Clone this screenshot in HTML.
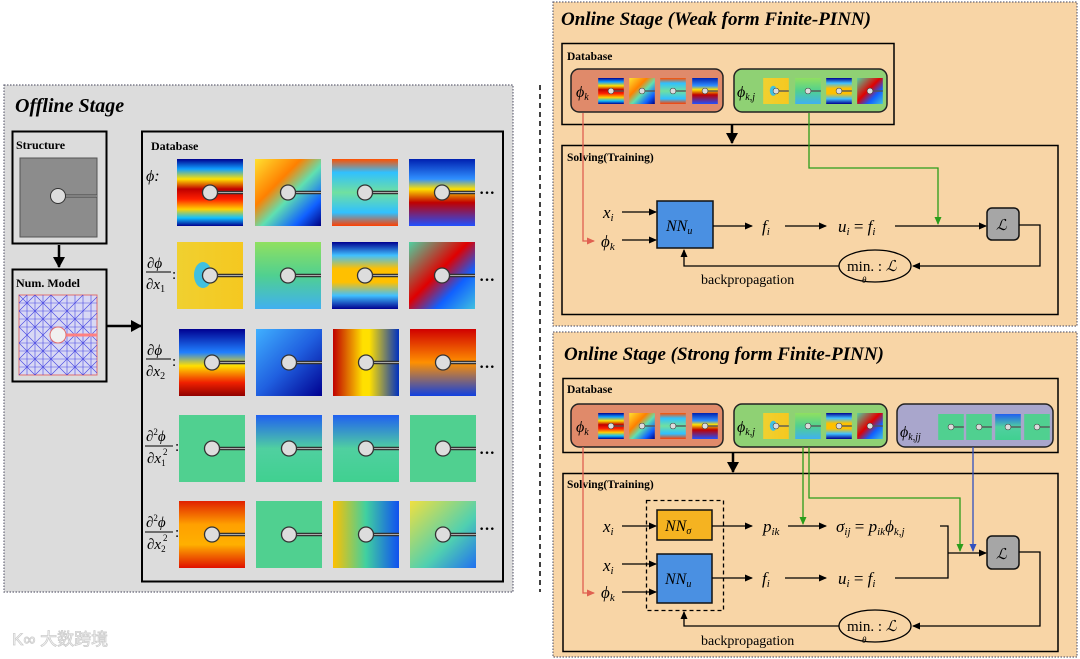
<!DOCTYPE html>
<html><head><meta charset="utf-8"><style>
html,body{margin:0;padding:0;background:#fff;width:1080px;height:659px;overflow:hidden}
svg{display:block}
.t{font-family:"Liberation Serif",serif}
.b{font-weight:bold}
.m{font-family:"Liberation Serif",serif;font-style:italic}
</style></head><body>
<svg width="1080" height="659" viewBox="0 0 1080 659" xmlns="http://www.w3.org/2000/svg">
<defs>
<marker id="ah" markerWidth="8" markerHeight="8" refX="7" refY="4" orient="auto" markerUnits="userSpaceOnUse"><path d="M0,0.5 L8,4 L0,7.5z" fill="#000"/></marker>
<marker id="ahb" markerWidth="12" markerHeight="12" refX="10" refY="6" orient="auto" markerUnits="userSpaceOnUse"><path d="M0,0 L11,6 L0,12z" fill="#000"/></marker>
<marker id="ahg" markerWidth="8" markerHeight="8" refX="7" refY="4" orient="auto" markerUnits="userSpaceOnUse"><path d="M0,0.5 L8,4 L0,7.5z" fill="#2a9d1a"/></marker>
<marker id="ahr" markerWidth="8" markerHeight="8" refX="7" refY="4" orient="auto" markerUnits="userSpaceOnUse"><path d="M0,0.5 L8,4 L0,7.5z" fill="#e06050"/></marker>
<marker id="ahl" markerWidth="8" markerHeight="8" refX="7" refY="4" orient="auto" markerUnits="userSpaceOnUse"><path d="M0,0.5 L8,4 L0,7.5z" fill="#3050c0"/></marker>
<linearGradient id="gA" x1="0" y1="0" x2="0" y2="1"><stop offset="0" stop-color="#00008f"/><stop offset=".15" stop-color="#10a0ff"/><stop offset=".3" stop-color="#ffe000"/><stop offset=".45" stop-color="#c00000"/><stop offset=".6" stop-color="#ff2000"/><stop offset=".75" stop-color="#ffd000"/><stop offset=".88" stop-color="#10c0ff"/><stop offset="1" stop-color="#000090"/></linearGradient>
<linearGradient id="gB" x1="0" y1="0" x2="1" y2="1"><stop offset="0" stop-color="#ffe030"/><stop offset=".35" stop-color="#ff8000"/><stop offset=".55" stop-color="#60e0b0"/><stop offset=".8" stop-color="#1060ff"/><stop offset="1" stop-color="#000080"/></linearGradient>
<linearGradient id="gC" x1="0" y1="0" x2="0" y2="1"><stop offset="0" stop-color="#ff5000"/><stop offset=".2" stop-color="#30c0ff"/><stop offset=".5" stop-color="#70e0a0"/><stop offset=".8" stop-color="#30c0ff"/><stop offset="1" stop-color="#ff4000"/></linearGradient>
<linearGradient id="gD" x1="0" y1="0" x2="0" y2="1"><stop offset="0" stop-color="#0020b0"/><stop offset=".3" stop-color="#3090ff"/><stop offset=".45" stop-color="#ffe000"/><stop offset=".65" stop-color="#c00000"/><stop offset="1" stop-color="#2050ff"/></linearGradient>
<linearGradient id="gY" x1="0" y1="0" x2="1" y2="0"><stop offset="0" stop-color="#f0d030"/><stop offset="1" stop-color="#f5c820"/></linearGradient>
<linearGradient id="gG" x1="0" y1="0" x2="0" y2="1"><stop offset="0" stop-color="#90e060"/><stop offset=".5" stop-color="#50d090"/><stop offset="1" stop-color="#40b0f0"/></linearGradient>
<linearGradient id="gE" x1="0" y1="0" x2="0" y2="1"><stop offset="0" stop-color="#000090"/><stop offset=".2" stop-color="#40c0ff"/><stop offset=".4" stop-color="#ffc000"/><stop offset=".6" stop-color="#ffc000"/><stop offset=".8" stop-color="#40c0ff"/><stop offset="1" stop-color="#000090"/></linearGradient>
<linearGradient id="gF" x1="0" y1="0" x2="1" y2="1"><stop offset="0" stop-color="#50d0a0"/><stop offset=".45" stop-color="#e00000"/><stop offset=".7" stop-color="#1060ff"/><stop offset="1" stop-color="#40c0e0"/></linearGradient>
<linearGradient id="gH" x1="0" y1="0" x2="0" y2="1"><stop offset="0" stop-color="#000090"/><stop offset=".35" stop-color="#2080ff"/><stop offset=".55" stop-color="#ffe000"/><stop offset=".8" stop-color="#f02000"/><stop offset="1" stop-color="#900000"/></linearGradient>
<linearGradient id="gI" x1="0" y1="0" x2="1" y2="1"><stop offset="0" stop-color="#40b0ff"/><stop offset=".5" stop-color="#2060e0"/><stop offset="1" stop-color="#000090"/></linearGradient>
<linearGradient id="gJ" x1="0" y1="0" x2="1" y2="0"><stop offset="0" stop-color="#c00000"/><stop offset=".45" stop-color="#ffe000"/><stop offset=".55" stop-color="#ffe000"/><stop offset="1" stop-color="#0030c0"/></linearGradient>
<linearGradient id="gK" x1="0" y1="0" x2="0" y2="1"><stop offset="0" stop-color="#e02000"/><stop offset=".35" stop-color="#ffa000"/><stop offset=".65" stop-color="#ffb000"/><stop offset="1" stop-color="#e01000"/></linearGradient>
<linearGradient id="gL" x1="0" y1="0" x2="1" y2="0"><stop offset="0" stop-color="#ffc000"/><stop offset=".5" stop-color="#40d0a0"/><stop offset="1" stop-color="#1050f0"/></linearGradient>
<linearGradient id="gM" x1="0" y1="0" x2="1" y2="1"><stop offset="0" stop-color="#f0e040"/><stop offset=".6" stop-color="#50d0b0"/><stop offset="1" stop-color="#2070f0"/></linearGradient>
<linearGradient id="gN" x1="0" y1="0" x2="0" y2="1"><stop offset="0" stop-color="#d00000"/><stop offset=".5" stop-color="#ff9000"/><stop offset="1" stop-color="#1040e0"/></linearGradient>
<linearGradient id="gP" x1="0" y1="0" x2="0" y2="1"><stop offset="0" stop-color="#2060f0"/><stop offset=".5" stop-color="#50d0a0"/><stop offset="1" stop-color="#40d090"/></linearGradient>
<g id="ov"><line x1="33" y1="33.5" x2="66" y2="33.5" stroke="#333" stroke-width="3.5"/><line x1="33" y1="33.5" x2="66" y2="33.5" stroke="#aaa" stroke-width="1"/><circle cx="33" cy="33.5" r="7.5" fill="#ddd" stroke="#333" stroke-width="1.3"/></g>
<symbol id="tA" viewBox="0 0 66 67"><rect width="66" height="67" fill="url(#gA)"/><use href="#ov"/></symbol>
<symbol id="tB" viewBox="0 0 66 67"><rect width="66" height="67" fill="url(#gB)"/><use href="#ov"/></symbol>
<symbol id="tC" viewBox="0 0 66 67"><rect width="66" height="67" fill="url(#gC)"/><use href="#ov"/></symbol>
<symbol id="tD" viewBox="0 0 66 67"><rect width="66" height="67" fill="url(#gD)"/><use href="#ov"/></symbol>
<symbol id="tY" viewBox="0 0 66 67"><rect width="66" height="67" fill="url(#gY)"/><ellipse cx="26" cy="33" rx="9" ry="13" fill="#40c0e0"/><use href="#ov"/></symbol>
<symbol id="tG" viewBox="0 0 66 67"><rect width="66" height="67" fill="url(#gG)"/><use href="#ov"/></symbol>
<symbol id="tE" viewBox="0 0 66 67"><rect width="66" height="67" fill="url(#gE)"/><use href="#ov"/></symbol>
<symbol id="tF" viewBox="0 0 66 67"><rect width="66" height="67" fill="url(#gF)"/><use href="#ov"/></symbol>
<symbol id="tH" viewBox="0 0 66 67"><rect width="66" height="67" fill="url(#gH)"/><use href="#ov"/></symbol>
<symbol id="tI" viewBox="0 0 66 67"><rect width="66" height="67" fill="url(#gI)"/><use href="#ov"/></symbol>
<symbol id="tJ" viewBox="0 0 66 67"><rect width="66" height="67" fill="url(#gJ)"/><use href="#ov"/></symbol>
<symbol id="tN" viewBox="0 0 66 67"><rect width="66" height="67" fill="url(#gN)"/><use href="#ov"/></symbol>
<symbol id="tS" viewBox="0 0 66 67"><rect width="66" height="67" fill="#50d090"/><use href="#ov"/></symbol>
<symbol id="tP" viewBox="0 0 66 67"><rect width="66" height="67" fill="url(#gP)"/><use href="#ov"/></symbol>
<symbol id="tK" viewBox="0 0 66 67"><rect width="66" height="67" fill="url(#gK)"/><use href="#ov"/></symbol>
<symbol id="tL" viewBox="0 0 66 67"><rect width="66" height="67" fill="url(#gL)"/><use href="#ov"/></symbol>
<symbol id="tM" viewBox="0 0 66 67"><rect width="66" height="67" fill="url(#gM)"/><use href="#ov"/></symbol>
</defs>

<!-- OFFLINE -->
<rect x="4" y="85" width="509" height="507" fill="#dcdcdc" stroke="#667" stroke-width="1.2" stroke-dasharray="1.5,1.5"/>
<text x="15" y="112" class="t b" font-style="italic" font-size="20">Offline Stage</text>
<rect x="12.5" y="131.5" width="94" height="112" fill="#dcdcdc" stroke="#000" stroke-width="2"/>
<text x="16" y="149" class="t b" font-size="12">Structure</text>
<rect x="20" y="158" width="77" height="79" fill="#8c8c8c" stroke="#555"/>
<line x1="62" y1="196" x2="97" y2="196" stroke="#444" stroke-width="3"/><line x1="62" y1="196" x2="97" y2="196" stroke="#bbb" stroke-width="1"/>
<circle cx="58" cy="196" r="7.5" fill="#ddd" stroke="#333"/>
<line x1="59" y1="245" x2="59" y2="267" stroke="#000" stroke-width="2.5" marker-end="url(#ahb)"/>
<rect x="12.5" y="269.5" width="94" height="112" fill="#dcdcdc" stroke="#000" stroke-width="2"/>
<text x="16" y="287" class="t b" font-size="12">Num. Model</text>
<rect x="19" y="295" width="78" height="80" fill="#d8d8f4" stroke="#e07070"/>
<g stroke="#3030e0" stroke-width=".6" opacity=".85">
<path d="M19,303H97M19,311H97M19,319H97M19,327H97M19,343H97M19,351H97M19,359H97M19,367H97M27,295V375M35,295V375M43,295V375M51,295V375M67,295V375M75,295V375M83,295V375M91,295V375"/>
<path d="M19,311L35,295M19,327L51,295M19,343L67,295M19,359L83,295M19,375L97,297M35,375L97,313M51,375L97,329M67,375L97,345M83,375L97,361M19,303L27,295M19,295L97,373M35,295L97,357M51,295L97,341M19,311L83,375M19,327L67,375M19,343L51,375M19,359L35,375"/>
</g>
<line x1="62" y1="335" x2="97" y2="335" stroke="#ff8080" stroke-width="3"/>
<circle cx="58" cy="335" r="8" fill="#f0f0f0" stroke="#e07070"/>
<line x1="107" y1="326" x2="141" y2="326" stroke="#000" stroke-width="2.5" marker-end="url(#ahb)"/>
<rect x="142" y="131.5" width="361" height="450" fill="#dcdcdc" stroke="#000" stroke-width="2"/>
<text x="151" y="150" class="t b" font-size="12">Database</text>
<use href="#tA" x="177" y="159" width="66" height="67"/><use href="#tB" x="255" y="159" width="66" height="67"/><use href="#tC" x="332" y="159" width="66" height="67"/><use href="#tD" x="409" y="159" width="66" height="67"/>
<use href="#tY" x="177" y="242" width="66" height="67"/><use href="#tG" x="255" y="242" width="66" height="67"/><use href="#tE" x="332" y="242" width="66" height="67"/><use href="#tF" x="409" y="242" width="66" height="67"/>
<use href="#tH" x="179" y="329" width="66" height="67"/><use href="#tI" x="256" y="329" width="66" height="67"/><use href="#tJ" x="333" y="329" width="66" height="67"/><use href="#tN" x="410" y="329" width="66" height="67"/>
<use href="#tS" x="179" y="415" width="66" height="67"/><use href="#tP" x="256" y="415" width="66" height="67"/><use href="#tP" x="333" y="415" width="66" height="67"/><use href="#tS" x="410" y="415" width="66" height="67"/>
<use href="#tK" x="179" y="501" width="66" height="67"/><use href="#tS" x="256" y="501" width="66" height="67"/><use href="#tL" x="333" y="501" width="66" height="67"/><use href="#tM" x="410" y="501" width="66" height="67"/>
<g class="t b" font-size="16"><text x="479" y="198">···</text><text x="479" y="285">···</text><text x="479" y="372">···</text><text x="479" y="458">···</text><text x="479" y="534">···</text></g>
<text x="146" y="181" class="m" font-size="16">ϕ:</text>
<g class="m" font-size="15">
<text x="147" y="268">∂ϕ</text><line x1="146" y1="272" x2="171" y2="272" stroke="#000"/><text x="146" y="289">∂x<tspan font-size="10" font-style="normal" dy="3">1</tspan></text><text x="172" y="279" font-style="normal">:</text>
<text x="147" y="355">∂ϕ</text><line x1="146" y1="359" x2="171" y2="359" stroke="#000"/><text x="146" y="376">∂x<tspan font-size="10" font-style="normal" dy="3">2</tspan></text><text x="172" y="366" font-style="normal">:</text>
<text x="146" y="441">∂<tspan font-size="9" font-style="normal" dy="-6">2</tspan><tspan dy="6">ϕ</tspan></text><line x1="145" y1="446" x2="173" y2="446" stroke="#000"/><text x="147" y="463">∂x<tspan font-size="9" font-style="normal" dy="3">1</tspan></text><text x="163" y="455" font-size="9" font-style="normal">2</text><text x="175" y="451" font-style="normal">:</text>
<text x="146" y="527">∂<tspan font-size="9" font-style="normal" dy="-6">2</tspan><tspan dy="6">ϕ</tspan></text><line x1="145" y1="532" x2="173" y2="532" stroke="#000"/><text x="147" y="549">∂x<tspan font-size="9" font-style="normal" dy="3">2</tspan></text><text x="163" y="541" font-size="9" font-style="normal">2</text><text x="175" y="537" font-style="normal">:</text>
</g>
<line x1="540" y1="85" x2="540" y2="592" stroke="#000" stroke-width="1.5" stroke-dasharray="5,4"/>

<!-- WEAK -->
<rect x="553" y="2" width="524" height="324" fill="#f8d5a6" stroke="#667" stroke-width="1.2" stroke-dasharray="1.5,1.5"/>
<text x="561" y="25" class="t b" font-style="italic" font-size="19">Online Stage (Weak form Finite-PINN)</text>
<rect x="562" y="43.5" width="332" height="81" fill="none" stroke="#000" stroke-width="1.5"/>
<text x="567" y="60" class="t b" font-size="11.5">Database</text>
<rect x="571" y="69" width="152" height="43" rx="8" fill="#e08a6a" stroke="#222" stroke-width="1.5"/>
<rect x="734" y="69" width="153" height="43" rx="8" fill="#8fd174" stroke="#222" stroke-width="1.5"/>
<text x="576" y="97" class="m" font-size="16">ϕ<tspan font-size="10" dy="3">k</tspan></text>
<text x="737" y="97" class="m" font-size="16">ϕ<tspan font-size="10" dy="3">k,j</tspan></text>
<use href="#tA" x="598" y="78" width="26" height="26"/><use href="#tB" x="629" y="78" width="26" height="26"/><use href="#tC" x="660" y="78" width="26" height="26"/><use href="#tD" x="692" y="78" width="26" height="26"/>
<use href="#tY" x="763" y="78" width="26" height="26"/><use href="#tG" x="795" y="78" width="26" height="26"/><use href="#tE" x="826" y="78" width="26" height="26"/><use href="#tF" x="857" y="78" width="26" height="26"/>
<line x1="732" y1="125" x2="732" y2="143" stroke="#000" stroke-width="2.5" marker-end="url(#ahb)"/>
<rect x="562" y="145.5" width="496" height="169" fill="none" stroke="#000" stroke-width="1.5"/>
<text x="567" y="161" class="t b" font-size="11.5">Solving(Training)</text>
<text x="603" y="218" class="m" font-size="17">x<tspan font-size="11" dy="3">i</tspan></text>
<text x="601" y="247" class="m" font-size="17">ϕ<tspan font-size="11" dy="3">k</tspan></text>
<line x1="622" y1="212" x2="656" y2="212" stroke="#000" stroke-width="1.3" marker-end="url(#ah)"/>
<line x1="622" y1="240" x2="656" y2="240" stroke="#000" stroke-width="1.3" marker-end="url(#ah)"/>
<rect x="657" y="201" width="56" height="47" fill="#4a90e2" stroke="#111" stroke-width="1.5"/>
<text x="666" y="231" class="m" font-size="16">NN<tspan font-size="10" dy="3">u</tspan></text>
<line x1="713" y1="226" x2="752" y2="226" stroke="#000" stroke-width="1.3" marker-end="url(#ah)"/>
<text x="762" y="232" class="m" font-size="17">f<tspan font-size="11" dy="3">i</tspan></text>
<line x1="785" y1="226" x2="826" y2="226" stroke="#000" stroke-width="1.3" marker-end="url(#ah)"/>
<text x="838" y="232" class="m" font-size="17">u<tspan font-size="11" dy="3">i</tspan><tspan dy="-3" font-style="normal"> = </tspan>f<tspan font-size="11" dy="3">i</tspan></text>
<line x1="895" y1="226" x2="986" y2="226" stroke="#000" stroke-width="1.3" marker-end="url(#ah)"/>
<rect x="987" y="208" width="32" height="32" rx="5" fill="#a6a6a6" stroke="#111" stroke-width="1.5"/>
<text x="996" y="230" class="m" font-size="15">ℒ</text>
<polyline points="1019,225 1040,225 1040,266 913,266" fill="none" stroke="#000" stroke-width="1.3" marker-end="url(#ah)"/>
<ellipse cx="875" cy="266" rx="36" ry="16" fill="none" stroke="#000" stroke-width="1.3"/>
<text x="847" y="271" class="t" font-size="15">min. : <tspan class="m">ℒ</tspan></text><text x="862" y="283" class="m" font-size="9">θ</text>
<polyline points="839,266 684,266 684,250" fill="none" stroke="#000" stroke-width="1.3" marker-end="url(#ah)"/>
<text x="701" y="284" class="t" font-size="14">backpropagation</text>
<polyline points="583,113 583,241 594,241" fill="none" stroke="#e06050" stroke-width="1.3" marker-end="url(#ahr)"/>
<polyline points="809,113 809,168 938,168 938,224" fill="none" stroke="#2a9d1a" stroke-width="1.3" marker-end="url(#ahg)"/>

<!-- STRONG -->
<rect x="553" y="332" width="524" height="325" fill="#f8d5a6" stroke="#667" stroke-width="1.2" stroke-dasharray="1.5,1.5"/>
<text x="564" y="360" class="t b" font-style="italic" font-size="19">Online Stage (Strong form Finite-PINN)</text>
<rect x="563" y="378.5" width="495" height="74" fill="none" stroke="#000" stroke-width="1.5"/>
<text x="567" y="393" class="t b" font-size="11.5">Database</text>
<rect x="571" y="404" width="152" height="43" rx="8" fill="#e08a6a" stroke="#222" stroke-width="1.5"/>
<rect x="734" y="404" width="153" height="43" rx="8" fill="#8fd174" stroke="#222" stroke-width="1.5"/>
<rect x="897" y="404" width="156" height="43" rx="8" fill="#a9a6cc" stroke="#222" stroke-width="1.5"/>
<text x="576" y="432" class="m" font-size="16">ϕ<tspan font-size="10" dy="3">k</tspan></text>
<text x="737" y="432" class="m" font-size="16">ϕ<tspan font-size="10" dy="3">k,j</tspan></text>
<text x="900" y="437" class="m" font-size="16">ϕ<tspan font-size="10" dy="3">k,jj</tspan></text>
<use href="#tA" x="598" y="413" width="26" height="26"/><use href="#tB" x="629" y="413" width="26" height="26"/><use href="#tC" x="660" y="413" width="26" height="26"/><use href="#tD" x="692" y="413" width="26" height="26"/>
<use href="#tY" x="763" y="413" width="26" height="26"/><use href="#tG" x="795" y="413" width="26" height="26"/><use href="#tE" x="826" y="413" width="26" height="26"/><use href="#tF" x="857" y="413" width="26" height="26"/>
<use href="#tS" x="938" y="414" width="26" height="26"/><use href="#tS" x="966" y="414" width="26" height="26"/><use href="#tP" x="995" y="414" width="26" height="26"/><use href="#tS" x="1024" y="414" width="26" height="26"/>
<line x1="733" y1="453" x2="733" y2="472" stroke="#000" stroke-width="2.5" marker-end="url(#ahb)"/>
<rect x="563" y="473.5" width="495" height="178" fill="none" stroke="#000" stroke-width="1.5"/>
<text x="567" y="488" class="t b" font-size="11.5">Solving(Training)</text>
<rect x="646.5" y="500.5" width="77" height="110" fill="none" stroke="#000" stroke-width="1.3" stroke-dasharray="4,3"/>
<text x="603" y="532" class="m" font-size="17">x<tspan font-size="11" dy="3">i</tspan></text>
<text x="603" y="571" class="m" font-size="17">x<tspan font-size="11" dy="3">i</tspan></text>
<text x="601" y="598" class="m" font-size="17">ϕ<tspan font-size="11" dy="3">k</tspan></text>
<line x1="622" y1="526" x2="656" y2="526" stroke="#000" stroke-width="1.3" marker-end="url(#ah)"/>
<line x1="622" y1="564" x2="656" y2="564" stroke="#000" stroke-width="1.3" marker-end="url(#ah)"/>
<line x1="622" y1="592" x2="656" y2="592" stroke="#000" stroke-width="1.3" marker-end="url(#ah)"/>
<rect x="657" y="510" width="55" height="30" fill="#f5b321" stroke="#111" stroke-width="1.5"/>
<text x="665" y="531" class="m" font-size="16">NN<tspan font-size="10" dy="3">σ</tspan></text>
<rect x="657" y="554" width="55" height="49" fill="#4a90e2" stroke="#111" stroke-width="1.5"/>
<text x="665" y="584" class="m" font-size="16">NN<tspan font-size="10" dy="3">u</tspan></text>
<line x1="712" y1="526" x2="752" y2="526" stroke="#000" stroke-width="1.3" marker-end="url(#ah)"/>
<text x="763" y="532" class="m" font-size="17">p<tspan font-size="11" dy="3">ik</tspan></text>
<line x1="788" y1="526" x2="826" y2="526" stroke="#000" stroke-width="1.3" marker-end="url(#ah)"/>
<text x="836" y="532" class="m" font-size="17">σ<tspan font-size="11" dy="3">ij</tspan><tspan dy="-3" font-style="normal"> = </tspan>p<tspan font-size="11" dy="3">ik</tspan><tspan dy="-3">ϕ</tspan><tspan font-size="11" dy="3">k,j</tspan></text>
<line x1="712" y1="578" x2="752" y2="578" stroke="#000" stroke-width="1.3" marker-end="url(#ah)"/>
<text x="762" y="584" class="m" font-size="17">f<tspan font-size="11" dy="3">i</tspan></text>
<line x1="785" y1="578" x2="826" y2="578" stroke="#000" stroke-width="1.3" marker-end="url(#ah)"/>
<text x="838" y="584" class="m" font-size="17">u<tspan font-size="11" dy="3">i</tspan><tspan dy="-3" font-style="normal"> = </tspan>f<tspan font-size="11" dy="3">i</tspan></text>
<polyline points="940,526 948,526 948,578 895,578" fill="none" stroke="#000" stroke-width="1.3"/>
<line x1="948" y1="553" x2="986" y2="553" stroke="#000" stroke-width="1.3" marker-end="url(#ah)"/>
<rect x="987" y="536" width="32" height="33" rx="5" fill="#a6a6a6" stroke="#111" stroke-width="1.5"/>
<text x="996" y="559" class="m" font-size="15">ℒ</text>
<polyline points="1019,552 1040,552 1040,626 913,626" fill="none" stroke="#000" stroke-width="1.3" marker-end="url(#ah)"/>
<ellipse cx="875" cy="626" rx="36" ry="16" fill="none" stroke="#000" stroke-width="1.3"/>
<text x="847" y="631" class="t" font-size="15">min. : <tspan class="m">ℒ</tspan></text><text x="862" y="643" class="m" font-size="9">θ</text>
<polyline points="839,626 684,626 684,612" fill="none" stroke="#000" stroke-width="1.3" marker-end="url(#ah)"/>
<text x="701" y="645" class="t" font-size="14">backpropagation</text>
<polyline points="583,447 583,593 594,593" fill="none" stroke="#e06050" stroke-width="1.3" marker-end="url(#ahr)"/>
<line x1="803" y1="447" x2="803" y2="524" stroke="#2a9d1a" stroke-width="1.3" marker-end="url(#ahg)"/>
<polyline points="809,447 809,498 960,498 960,551" fill="none" stroke="#2a9d1a" stroke-width="1.3" marker-end="url(#ahg)"/>
<line x1="973" y1="447" x2="973" y2="551" stroke="#3050c0" stroke-width="1.3" marker-end="url(#ahl)"/>

<text x="12" y="645" font-family="'Liberation Sans','Noto Sans CJK SC',sans-serif" font-size="17" fill="#fff" stroke="#ccc" stroke-width=".8">K∞ 大数跨境</text>
</svg>
</body></html>
